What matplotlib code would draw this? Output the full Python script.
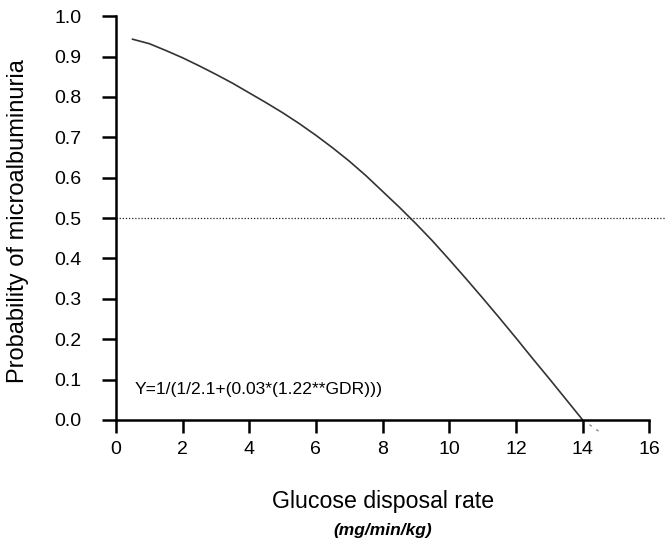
import matplotlib
matplotlib.use("Agg")
import matplotlib.pyplot as plt

plt.rcParams['font.family'] = ['Liberation Sans', 'DejaVu Sans']

# values
gdr = [0.5, 1, 1.5, 2, 2.5, 3, 3.5, 4, 4.5, 5, 5.5, 6, 6.5, 7, 7.5, 8,
       8.5, 9, 9.5, 10, 10.5, 11, 11.5, 12, 12.5, 13, 13.5, 14]
prob = [0.943, 0.932, 0.915, 0.897, 0.877, 0.856, 0.834, 0.81, 0.786, 0.761,
        0.734, 0.705, 0.674, 0.641, 0.605, 0.566, 0.527, 0.486, 0.443, 0.397,
        0.350, 0.302, 0.253, 0.203, 0.152, 0.102, 0.051, 0.0]
tail_gdr = [14, 14.6]
tail_prob = [0.0, -0.035]

xticks = [0, 2, 4, 6, 8, 10, 12, 14, 16]
yticks = [0.0, 0.1, 0.2, 0.3, 0.4, 0.5, 0.6, 0.7, 0.8, 0.9, 1.0]
threshold = 0.5
formula = "Y=1/(1/2.1+(0.03*(1.22**GDR)))"

fig = plt.figure(figsize=(6.66, 5.4), dpi=100)
ax = fig.add_axes([0.174, 0.185, 0.826, 0.785])

ax.plot(gdr, prob, color='#333333', lw=1.2)
ax.plot(tail_gdr, tail_prob, color='#888888', lw=1.0, ls=(0, (2, 4)))
ax.axhline(threshold, color='#222222', lw=0.9, ls=(0, (1, 1.5)))

ax.set_xlim(0, 16.5)
ax.set_ylim(-0.05, 1.0)
ax.spines['top'].set_visible(False)
ax.spines['right'].set_visible(False)
ax.spines['bottom'].set_position(('data', 0))
ax.spines['bottom'].set_bounds(0, 16)
ax.spines['left'].set_bounds(0, 1)
for s in ('left', 'bottom'):
    ax.spines[s].set_linewidth(1.8)

ax.set_xticks(xticks)
ax.set_xticklabels([str(t) for t in xticks])
ax.set_yticks(yticks)
ax.set_yticklabels([f"{t:.1f}" for t in yticks])
ax.tick_params(axis='y', direction='out', length=10, width=1.8, pad=15, labelsize=14)
ax.tick_params(axis='x', direction='out', length=9, width=1.8, pad=6, labelsize=14)

ax.text(0.55, 0.075, formula, fontsize=12.6, va='center', ha='left')

fig.text(0.027, 0.591, "Probability of microalbuminuria", fontsize=17,
         rotation=90, ha='center', va='center')
fig.text(0.575, 0.0704, "Glucose disposal rate", fontsize=16.7, ha='center', va='center')
fig.text(0.575, 0.0185, "(mg/min/kg)", fontsize=12.5, ha='center', va='center',
         style='italic', weight='bold')

fig.savefig("out.png", dpi=100)
